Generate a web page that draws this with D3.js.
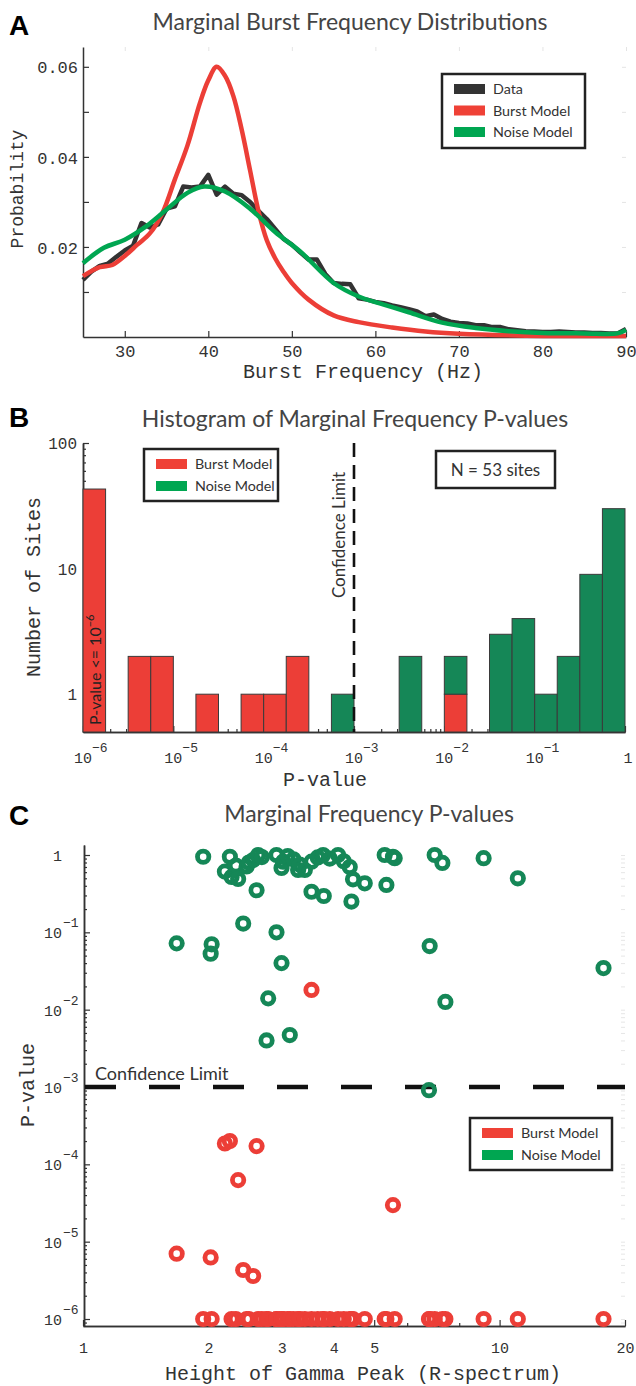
<!DOCTYPE html>
<html>
<head>
<meta charset="utf-8">
<script src="https://cdn.jsdelivr.net/npm/d3@7"></script>
<style>
  body { margin: 0; background: #fff; }
</style>
</head>
<body>
<div id="chart"></div>
<script>
// ---- Panel A : marginal burst frequency distributions ----
const dataFreq = d3.range(25, 91); // 1 Hz bins, 25..90
const dataProb = [0.0127, 0.0145, 0.0158, 0.0163, 0.0178, 0.0192, 0.0203, 0.0253, 0.0243, 0.0250,
  0.0285, 0.0290, 0.0334, 0.0332, 0.0334, 0.0360, 0.0316, 0.0334, 0.0318, 0.0315,
  0.0300, 0.0280, 0.0262, 0.0240, 0.0218, 0.0205, 0.0188, 0.0172, 0.0172, 0.0140,
  0.0120, 0.0118, 0.0117, 0.0086, 0.0083, 0.0078, 0.0075, 0.0070, 0.0066, 0.0062,
  0.0057, 0.0046, 0.0050, 0.0040, 0.0034, 0.0031, 0.0030, 0.0026, 0.0026, 0.0022,
  0.0022, 0.0017, 0.0015, 0.0013, 0.0012, 0.0011, 0.0011, 0.0012, 0.0011, 0.0010,
  0.0010, 0.0009, 0.0009, 0.0008, 0.0008, 0.0018];
const burstFreq = [25, 27, 28.5, 30, 31.5, 33, 34.5, 36, 37.5, 39, 40, 41, 42, 43, 44, 45, 46, 47, 48, 49, 50, 52, 55, 58, 62, 66, 70, 78, 90];
const burstProb = [0.0135, 0.0155, 0.016, 0.018, 0.0205, 0.023, 0.0275, 0.035, 0.0425, 0.052, 0.057, 0.060, 0.058, 0.0535, 0.046, 0.037, 0.028, 0.0215, 0.0175, 0.0145, 0.012, 0.0083, 0.0048, 0.0033, 0.0021, 0.0012, 0.0007, 0.0003, 0.0002];
const noiseFreq = [25, 27.5, 30, 32.5, 35, 37.5, 39.5, 42, 45, 48, 51, 55, 58, 61, 64, 68, 72, 76, 80, 85, 89, 90];
const noiseProb = [0.0164, 0.0198, 0.0216, 0.0245, 0.0283, 0.032, 0.0334, 0.0323, 0.0285, 0.0233, 0.019, 0.012, 0.009, 0.0072, 0.0055, 0.0032, 0.002, 0.0013, 0.0009, 0.0008, 0.0008, 0.0016];
const freqTicks = [30, 40, 50, 60, 70, 80, 90];
const probTicks = [0.01, 0.02, 0.03, 0.04, 0.05, 0.06];

// ---- Panel B : histogram of p-values (bins of 1/4 decade from 1e-6 to 1) ----
const binLogStart = [-6, -5.75, -5.5, -5.25, -5, -4.75, -4.5, -4.25, -4, -3.75, -3.5, -3.25,
  -3, -2.75, -2.5, -2.25, -2, -1.75, -1.5, -1.25, -1, -0.75, -0.5, -0.25];
const burstCounts = [43, 0, 2, 2, 0, 1, 0, 1, 1, 2, 0, 0, 0, 0, 0, 0, 1, 0, 0, 0, 0, 0, 0, 0];
const noiseCounts = [0, 0, 0, 0, 0, 0, 0, 0, 0, 0, 0, 1, 0, 0, 2, 0, 1, 0, 3, 4, 1, 2, 9, 30];
const pExpTicks = [-6, -5, -4, -3, -2, -1, 0];
const countTicks = [1, 10, 100];
const confidenceLimit = 1e-3;

// ---- Panel C : p-value vs height of gamma peak, one entry per site ----
const gammaHeight = [1.678, 1.943, 2.025, 2.036, 2.191, 2.252, 2.273, 2.328, 2.357, 2.424,
  2.470, 2.501, 2.561, 2.610, 2.633, 2.688, 2.758, 2.783, 2.914, 2.914,
  2.996, 2.996, 3.022, 3.101, 3.136, 3.200, 3.284, 3.314, 3.408, 3.536,
  3.536, 3.660, 3.770, 3.784, 3.912, 4.095, 4.226, 4.368, 4.409, 4.448,
  4.746, 5.299, 5.349, 5.547, 5.600, 6.768, 6.794, 6.985, 7.289, 7.411,
  9.155, 11.06, 17.76];
const pNoise = [0.072, 0.95, 0.053, 0.070, 0.61, 0.95, 0.52, 0.73, 0.49, 0.13,
  0.71, 0.80, 0.86, 0.35, 1.0, 0.94, 0.0040, 0.014, 1.0, 0.10,
  0.68, 0.040, 0.82, 0.97, 0.0047, 0.88, 0.64, 0.75, 0.64, 0.82,
  0.335, 0.93, 1.0, 0.295, 0.90, 1.0, 0.83, 0.70, 0.25, 0.485,
  0.43, 1.0, 0.41, 0.95, 0.91, 0.00091, 0.0665, 1.0, 0.79, 0.0126,
  0.91, 0.50, 0.0345];
const pBurst = [7.0e-6, 1e-6, 6.25e-6, 1e-6, 1.86e-4, 2.0e-4, 1e-6, 1e-6, 6.25e-5, 4.3e-6,
  1e-6, 1e-6, 3.6e-6, 1.72e-4, 1e-6, 1e-6, 1e-6, 1e-6, 1e-6, 1e-6,
  1e-6, 1e-6, 1e-6, 1e-6, 1e-6, 1e-6, 1e-6, 1e-6, 1e-6, 1e-6,
  0.018, 1e-6, 1e-6, 1e-6, 1e-6, 1e-6, 1e-6, 1e-6, 1e-6, 1e-6,
  1e-6, 1e-6, 1e-6, 2.97e-5, 1e-6, 1e-6, 1e-6, 1e-6, 1e-6, 1e-6,
  1e-6, 1e-6, 1e-6];
const heightTicks = [1, 2, 3, 4, 5, 10, 20];
const heightMinor = [6, 7, 8, 9];

// ---- styles ----
const RED = "#ec3e37", GREEN_LINE = "#00a651", GREEN = "#158757", DARK = "#333333";
const MONO = "'Liberation Mono', 'DejaVu Sans Mono', monospace";
const SANS = "Lato, 'Open Sans', sans-serif";

const svg = d3.select("#chart").append("svg")
  .attr("width", 636).attr("height", 1386)
  .style("font-family", MONO);

function styleAxis(g) {
  g.select(".domain").attr("stroke", DARK).attr("stroke-width", 1.5);
  g.selectAll(".tick line").attr("stroke", DARK).attr("stroke-width", 1.2);
  g.selectAll(".tick text").attr("fill", DARK).style("font-family", MONO);
}

function panelLetter(letter, y) {
  svg.append("text").attr("x", 9).attr("y", y)
    .style("font-family", "'Liberation Sans', Arial, sans-serif")
    .attr("font-weight", "bold").attr("font-size", 28).attr("fill", "#000")
    .text(letter);
}

function title(txt, x, y) {
  svg.append("text").attr("x", x).attr("y", y).attr("text-anchor", "middle")
    .style("font-family", SANS).attr("font-size", 23).attr("fill", "#444")
    .text(txt);
}

function legend(x, y, w, h, items, rowGap) {
  const g = svg.append("g").attr("transform", `translate(${x},${y})`);
  g.append("rect").attr("width", w).attr("height", h)
    .attr("fill", "#fff").attr("stroke", "#222").attr("stroke-width", 2.5);
  items.forEach((it, i) => {
    const cy = 15 + i * rowGap;
    g.append("rect").attr("x", 12).attr("y", cy - 5).attr("width", 31).attr("height", 10)
      .attr("fill", it.color);
    g.append("text").attr("x", 51).attr("y", cy + 5)
      .style("font-family", SANS).attr("font-size", 14.3).attr("fill", DARK)
      .text(it.label);
  });
}

// exponent labels 10^n
function powLabel(g, x, y, exp, anchor) {
  if (exp === 0) {
    g.append("text").attr("x", x).attr("y", y).attr("text-anchor", anchor === "end" ? "end" : "middle")
      .attr("font-size", 15).attr("fill", DARK).text("1");
    return;
  }
  g.append("text").attr("x", x).attr("y", y)
    .attr("text-anchor", anchor === "end" ? "end" : "middle")
    .attr("font-size", 15).attr("fill", DARK).text("10");
  const ex = anchor === "end" ? x + 1 : x + 9;
  g.append("text").attr("x", ex).attr("y", y - 11).attr("font-size", 13).attr("fill", DARK)
    .text("\u2212" + Math.abs(exp));
}

// ====================== Panel A ======================
{
  const x = d3.scaleLinear().domain([25, 90]).range([83, 626]);
  const y = d3.scaleLinear().domain([0, 0.0644]).range([337, 47]);

  panelLetter("A", 35);
  title("Marginal Burst Frequency Distributions", 350, 30);

  // faint box ticks on top/right
  const top = svg.append("g").attr("transform", "translate(0,47)")
    .call(d3.axisTop(x).tickValues(freqTicks).tickSize(-4).tickFormat(""));
  top.select(".domain").remove();
  top.selectAll(".tick line").attr("stroke", "#e4e4e4");
  const right = svg.append("g").attr("transform", "translate(626,0)")
    .call(d3.axisRight(y).tickValues(probTicks).tickSize(-4).tickFormat(""));
  right.select(".domain").remove();
  right.selectAll(".tick line").attr("stroke", "#e4e4e4");

  svg.append("g").attr("transform", "translate(0,337)")
    .call(d3.axisBottom(x).tickValues(freqTicks).tickSizeInner(-6).tickSizeOuter(0).tickPadding(8))
    .call(styleAxis)
    .call(g => g.selectAll(".tick text").attr("font-size", 17));
  svg.append("g").attr("transform", "translate(83,0)")
    .call(d3.axisLeft(y).tickValues(probTicks).tickSizeInner(-6).tickSizeOuter(0).tickPadding(5)
      .tickFormat(d => Math.round(d * 100) % 2 === 0 ? d3.format(".2f")(d) : ""))
    .call(styleAxis)
    .call(g => g.selectAll(".tick text").attr("font-size", 17).attr("dy", "0.36em"));

  const line = d3.line().x(d => x(d[0])).y(d => y(d[1]));
  const smooth = d3.line().x(d => x(d[0])).y(d => y(d[1])).curve(d3.curveCatmullRom);

  svg.append("path").datum(d3.zip(dataFreq, dataProb)).attr("d", line)
    .attr("fill", "none").attr("stroke", DARK).attr("stroke-width", 4.5).attr("stroke-linejoin", "round");
  svg.append("path").datum(d3.zip(burstFreq, burstProb)).attr("d", smooth)
    .attr("fill", "none").attr("stroke", RED).attr("stroke-width", 4.5).attr("stroke-linejoin", "round");
  svg.append("path").datum(d3.zip(noiseFreq, noiseProb)).attr("d", smooth)
    .attr("fill", "none").attr("stroke", GREEN_LINE).attr("stroke-width", 4.5).attr("stroke-linejoin", "round");

  svg.append("text").attr("x", 363).attr("y", 378).attr("text-anchor", "middle")
    .attr("font-size", 20).attr("fill", DARK).text("Burst Frequency (Hz)");
  svg.append("text").attr("transform", "translate(23,189) rotate(-90)").attr("text-anchor", "middle")
    .attr("font-size", 18).attr("fill", DARK).text("Probability");

  legend(442, 74, 143, 74, [
    { label: "Data", color: "#333" },
    { label: "Burst Model", color: "#ef4136" },
    { label: "Noise Model", color: "#00a651" }
  ], 21.5);
}

// ====================== Panel B ======================
{
  const x = d3.scaleLog().domain([1e-6, 1]).range([83, 625]);
  const y = d3.scaleLog().domain([0.5, 100]).range([732, 443]);
  const y0 = y.domain()[0];

  panelLetter("B", 427);
  title("Histogram of Marginal Frequency P-values", 355, 427);

  const xMinor = [];
  pExpTicks.slice(0, -1).forEach(e => [2, 3, 4, 5, 6, 7, 8, 9].forEach(m => xMinor.push(m * Math.pow(10, e))));
  const yMinor = [0.6, 0.7, 0.8, 0.9, 2, 3, 4, 5, 6, 7, 8, 9, 20, 30, 40, 50, 60, 70, 80, 90];

  svg.append("g").attr("transform", "translate(0,732)")
    .call(d3.axisBottom(x).tickValues(xMinor).tickSizeInner(-3).tickSizeOuter(0).tickFormat(""))
    .call(styleAxis);
  svg.append("g").attr("transform", "translate(0,732)")
    .call(d3.axisBottom(x).tickValues(pExpTicks.map(e => Math.pow(10, e))).tickSizeInner(-6).tickSizeOuter(0).tickFormat(""))
    .call(styleAxis);
  svg.append("g").attr("transform", "translate(83,0)")
    .call(d3.axisLeft(y).tickValues(yMinor).tickSizeInner(-3).tickSizeOuter(0).tickFormat(""))
    .call(styleAxis);
  svg.append("g").attr("transform", "translate(83,0)")
    .call(d3.axisLeft(y).tickValues(countTicks).tickSizeInner(-6).tickSizeOuter(0).tickPadding(6))
    .call(styleAxis)
    .call(g => g.selectAll(".tick text").attr("font-size", 16).attr("dy", "0.36em"));

  const lab = svg.append("g");
  pExpTicks.forEach(e => powLabel(lab, x(Math.pow(10, e)) + (e === 0 ? 3 : 0), 763, e, "middle"));

  const bars = svg.append("g").attr("stroke", "#3a3a3a").attr("stroke-width", 1);
  binLogStart.forEach((b, i) => {
    const x0 = x(Math.pow(10, b)), x1 = x(Math.pow(10, b + 0.25));
    const r = burstCounts[i], n = noiseCounts[i];
    if (r > 0) {
      bars.append("rect").attr("x", x0).attr("width", x1 - x0)
        .attr("y", y(r)).attr("height", y(y0) - y(r)).attr("fill", RED);
    }
    if (n > 0) {
      const base = r > 0 ? r : y0;
      bars.append("rect").attr("x", x0).attr("width", x1 - x0)
        .attr("y", y(r + n)).attr("height", y(base) - y(r + n)).attr("fill", GREEN);
    }
  });

  svg.append("line").attr("x1", x(confidenceLimit)).attr("x2", x(confidenceLimit))
    .attr("y1", 443).attr("y2", 732)
    .attr("stroke", "#111").attr("stroke-width", 2.6).attr("stroke-dasharray", "14,8");
  svg.append("text").attr("transform", `translate(${x(confidenceLimit) - 9},535) rotate(-90)`)
    .attr("text-anchor", "middle").style("font-family", SANS).attr("font-size", 17).attr("fill", DARK)
    .text("Confidence Limit");

  const pv = svg.append("text").attr("transform", "translate(101,725) rotate(-90)")
    .style("font-family", SANS).attr("font-size", 16).attr("fill", "#222");
  pv.append("tspan").text("P-value <= 10");
  pv.append("tspan").attr("dy", -7).attr("font-size", 11).text("\u22126");

  svg.append("text").attr("x", 325).attr("y", 786).attr("text-anchor", "middle")
    .attr("font-size", 20).attr("fill", DARK).text("P-value");
  svg.append("text").attr("transform", "translate(40,587) rotate(-90)").attr("text-anchor", "middle")
    .attr("font-size", 20).attr("fill", DARK).text("Number of Sites");

  legend(144, 449, 134, 52, [
    { label: "Burst Model", color: "#ef4136" },
    { label: "Noise Model", color: "#00a651" }
  ], 22);

  svg.append("rect").attr("x", 436).attr("y", 451).attr("width", 119).attr("height", 37)
    .attr("fill", "#fff").attr("stroke", "#222").attr("stroke-width", 2.5);
  svg.append("text").attr("x", 495.5).attr("y", 476).attr("text-anchor", "middle")
    .style("font-family", SANS).attr("font-size", 17).attr("fill", DARK).text("N = 53 sites");
}

// ====================== Panel C ======================
{
  const x = d3.scaleLog().domain([1, 20]).range([83, 625]);
  const y = d3.scaleLog().domain([8.12e-7, 1.347]).range([1326, 845]);

  panelLetter("C", 825);
  title("Marginal Frequency P-values", 369, 822);

  const yMinor = [];
  [-7, -6, -5, -4, -3, -2, -1, 0].forEach(e => [2, 3, 4, 5, 6, 7, 8, 9].forEach(m => {
    const v = m * Math.pow(10, e);
    if (v >= 8.12e-7 && v <= 1.347) yMinor.push(v);
  }));
  const yMajor = pExpTicks.map(e => Math.pow(10, e));

  // faint right side ticks
  const right = svg.append("g").attr("transform", "translate(625,0)")
    .call(d3.axisRight(y).tickValues(yMajor.concat(yMinor)).tickSize(-4).tickFormat(""));
  right.select(".domain").remove();
  right.selectAll(".tick line").attr("stroke", "#e6e6e6");

  svg.append("g").attr("transform", "translate(0,1326)")
    .call(d3.axisBottom(x).tickValues(heightMinor).tickSizeInner(-3).tickSizeOuter(0).tickFormat(""))
    .call(styleAxis);
  svg.append("g").attr("transform", "translate(0,1326)")
    .call(d3.axisBottom(x).tickValues(heightTicks).tickSizeInner(-6).tickSizeOuter(0).tickPadding(16)
      .tickFormat(d3.format("d")))
    .call(styleAxis)
    .call(g => g.selectAll(".tick text").attr("font-size", 15));
  svg.append("g").attr("transform", "translate(84,0)")
    .call(d3.axisLeft(y).tickValues(yMinor).tickSizeInner(-3).tickSizeOuter(0).tickFormat(""))
    .call(styleAxis);
  svg.append("g").attr("transform", "translate(84,0)")
    .call(d3.axisLeft(y).tickValues(yMajor).tickSizeInner(-6).tickSizeOuter(0).tickFormat(""))
    .call(styleAxis);

  const lab = svg.append("g");
  pExpTicks.forEach(e => powLabel(lab, 62, y(Math.pow(10, e)) + 6, e, "end"));

  svg.append("line").attr("x1", 85).attr("x2", 625)
    .attr("y1", y(confidenceLimit)).attr("y2", y(confidenceLimit))
    .attr("stroke", "#111").attr("stroke-width", 4.5).attr("stroke-dasharray", "31,33");
  svg.append("text").attr("x", 95).attr("y", 1080)
    .style("font-family", SANS).attr("font-size", 18).attr("fill", DARK).text("Confidence Limit");

  const pts = svg.append("g").attr("fill", "none").attr("stroke-width", 4.8);
  pts.selectAll(".noise").data(d3.zip(gammaHeight, pNoise)).join("circle")
    .attr("cx", d => x(d[0])).attr("cy", d => y(d[1])).attr("r", 5.7).attr("stroke", GREEN);
  pts.selectAll(".burst").data(d3.zip(gammaHeight, pBurst)).join("circle")
    .attr("cx", d => x(d[0])).attr("cy", d => y(d[1])).attr("r", 5.7).attr("stroke", RED);

  svg.append("text").attr("x", 363).attr("y", 1380).attr("text-anchor", "middle")
    .attr("font-size", 20).attr("fill", DARK).text("Height of Gamma Peak (R-spectrum)");
  svg.append("text").attr("transform", "translate(34,1085) rotate(-90)").attr("text-anchor", "middle")
    .attr("font-size", 20).attr("fill", DARK).text("P-value");

  legend(470, 1118, 142, 52, [
    { label: "Burst Model", color: "#ef4136" },
    { label: "Noise Model", color: "#00a651" }
  ], 22);
}
</script>
</body>
</html>
